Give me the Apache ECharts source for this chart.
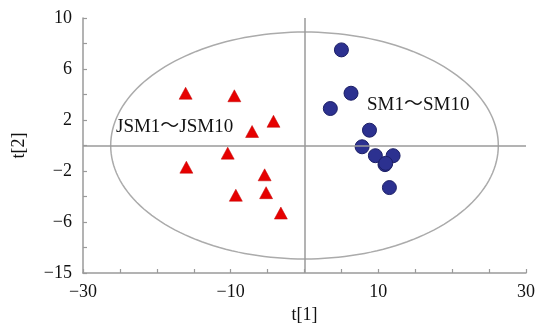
<!DOCTYPE html>
<html>
<head>
<meta charset="utf-8">
<script src="https://cdn.jsdelivr.net/npm/echarts@6/dist/echarts.min.js"></script>
<style>
    html, body { margin: 0; padding: 0; background: #fff; }
    #main { width: 539px; height: 330px; }
</style>
</head>
<body>
<div id="main"></div>
<script>
// JSM1~JSM10 group (triangles)
var jsmX = [-16.1, -9.5, -4.2, -7.1, -10.4, -16.0, -5.4, -5.2, -9.3, -3.2];
var jsmY = [4.1, 3.9, 1.9, 1.1, -0.6, -1.7, -2.3, -3.7, -3.9, -5.3];
// SM1~SM10 group (circles), one point sits under another
var smX = [5.0, 6.3, 3.5, 8.8, 7.8, 9.6, 12.0, 10.9, 11.5, 11.0];
var smY = [7.5, 4.1, 2.9, 1.2, -0.1, -0.8, -0.8, -1.5, -3.3, -1.4];
// ellipse: centre x, centre y, half width, half height
var ellipse = [0, 0, 26.25, 8.9];
var xTicks = [-30, -10, 10, 30];
var yTicks = [-10, -6, -2, 2, 6, 10];
var yTickText = ['\u221215', '\u22126', '\u22122', '2', '6', '10'];

function pairs(xs, ys) {
    var out = [];
    for (var i = 0; i < xs.length; i++) {
        out.push([xs[i], ys[i]]);
    }
    return out;
}

function minus(v) {
    return String(v).replace('-', '\u2212');
}

var chart = echarts.init(document.getElementById('main'));
var axisGrey = '#9a9a9a';
var serif = '"Liberation Serif", "Noto Sans CJK JP", serif';

var option = {
    animation: false,
    backgroundColor: '#fff',
    grid: { left: 83, right: 13, top: 18, bottom: 57 },
    xAxis: {
        type: 'value',
        min: xTicks[0],
        max: xTicks[xTicks.length - 1],
        interval: 20,
        name: 't[1]',
        nameLocation: 'middle',
        nameGap: 31,
        nameTextStyle: { fontFamily: serif, fontSize: 18, color: '#111' },
        axisLine: { onZero: false, lineStyle: { color: axisGrey, width: 1.5 } },
        axisTick: { inside: true, length: 4, lineStyle: { color: axisGrey, width: 1.2 } },
        minorTick: { show: true, splitNumber: 4, length: 4, lineStyle: { color: axisGrey, width: 1.2 } },
        splitLine: { show: false },
        axisLabel: {
            margin: 10,
            fontFamily: serif,
            fontSize: 18,
            color: '#111',
            formatter: function(v) { return minus(v); }
        }
    },
    yAxis: {
        type: 'value',
        min: yTicks[0],
        max: yTicks[yTicks.length - 1],
        interval: 4,
        name: 't[2]',
        nameLocation: 'middle',
        nameGap: 55,
        nameTextStyle: { fontFamily: serif, fontSize: 18, color: '#111' },
        axisLine: { onZero: false, lineStyle: { color: axisGrey, width: 1.5 } },
        axisTick: { inside: true, length: 4, lineStyle: { color: axisGrey, width: 1.2 } },
        minorTick: { show: true, splitNumber: 2, length: 4, lineStyle: { color: axisGrey, width: 1.2 } },
        splitLine: { show: false },
        axisLabel: {
            margin: 11,
            fontFamily: serif,
            fontSize: 18,
            color: '#111',
            formatter: function(v) {
                var k = yTicks.indexOf(v);
                return k >= 0 ? yTickText[k] : '';
            }
        }
    },
    series: [{
        type: 'custom',
        silent: true,
        z: 1,
        data: [ellipse],
        renderItem: function(params, api) {
            var c = api.coord([api.value(0), api.value(1)]);
            var rx = api.size([api.value(2), 0])[0];
            var ry = api.size([0, api.value(3)])[1];
            var pts = [];
            for (var i = 0; i <= 180; i++) {
                var a = i / 180 * Math.PI * 2;
                pts.push([c[0] + rx * Math.cos(a), c[1] + ry * Math.sin(a)]);
            }
            return {
                type: 'polygon',
                shape: { points: pts },
                style: { fill: 'none', stroke: '#ababab', lineWidth: 1.5 }
            };
        },
        markLine: {
            silent: true,
            symbol: 'none',
            label: { show: false },
            lineStyle: { color: axisGrey, width: 1.5, type: 'solid' },
            data: [{ xAxis: 0 }, { yAxis: 0 }]
        }
    }, {
        type: 'scatter',
        z: 3,
        symbol: 'triangle',
        symbolSize: [13, 12],
        itemStyle: { color: '#e60000', borderColor: '#c00000', borderWidth: 0.5, opacity: 1 },
        data: pairs(jsmX, jsmY)
    }, {
        type: 'scatter',
        z: 3,
        symbol: 'circle',
        symbolSize: 14,
        itemStyle: { color: '#2c3190', borderColor: '#1c1f66', borderWidth: 1, opacity: 1 },
        data: pairs(smX, smY)
    }],
    graphic: [{
        type: 'text',
        left: 116,
        top: 118,
        style: { text: 'JSM1\uff5eJSM10', font: '19px ' + serif, fill: '#111' }
    }, {
        type: 'text',
        left: 367,
        top: 96,
        style: { text: 'SM1\uff5eSM10', font: '19px ' + serif, fill: '#111' }
    }]
};

chart.setOption(option);
</script>
</body>
</html>
